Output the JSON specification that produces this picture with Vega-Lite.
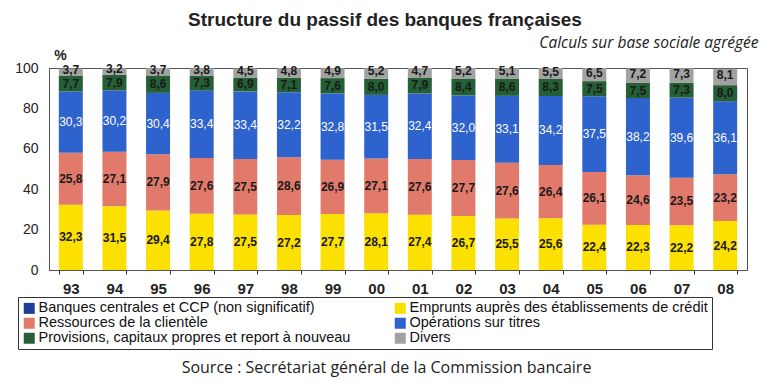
{
  "$schema": "https://vega.github.io/schema/vega-lite/v6.json",
  "width": 698,
  "height": 202,
  "autosize": {"type": "none"},
  "padding": {"left": 49, "top": 68, "right": 22, "bottom": 112},
  "background": "white",
  "title": {
    "text": "Structure du passif des banques françaises",
    "anchor": "middle",
    "frame": "group",
    "dx": -13,
    "offset": 5,
    "font": "Liberation Sans",
    "fontSize": 19,
    "fontWeight": "bold",
    "color": "#222222"
  },
  "data": {
    "values": [
      {"annee": "93", "Emprunts auprès des établissements de crédit": 32.3, "Ressources de la clientèle": 25.8, "Opérations sur titres": 30.3, "Provisions, capitaux propres et report à nouveau": 7.7, "Divers": 3.7},
      {"annee": "94", "Emprunts auprès des établissements de crédit": 31.5, "Ressources de la clientèle": 27.1, "Opérations sur titres": 30.2, "Provisions, capitaux propres et report à nouveau": 7.9, "Divers": 3.2},
      {"annee": "95", "Emprunts auprès des établissements de crédit": 29.4, "Ressources de la clientèle": 27.9, "Opérations sur titres": 30.4, "Provisions, capitaux propres et report à nouveau": 8.6, "Divers": 3.7},
      {"annee": "96", "Emprunts auprès des établissements de crédit": 27.8, "Ressources de la clientèle": 27.6, "Opérations sur titres": 33.4, "Provisions, capitaux propres et report à nouveau": 7.3, "Divers": 3.8},
      {"annee": "97", "Emprunts auprès des établissements de crédit": 27.5, "Ressources de la clientèle": 27.5, "Opérations sur titres": 33.4, "Provisions, capitaux propres et report à nouveau": 6.9, "Divers": 4.5},
      {"annee": "98", "Emprunts auprès des établissements de crédit": 27.2, "Ressources de la clientèle": 28.6, "Opérations sur titres": 32.2, "Provisions, capitaux propres et report à nouveau": 7.1, "Divers": 4.8},
      {"annee": "99", "Emprunts auprès des établissements de crédit": 27.7, "Ressources de la clientèle": 26.9, "Opérations sur titres": 32.8, "Provisions, capitaux propres et report à nouveau": 7.6, "Divers": 4.9},
      {"annee": "00", "Emprunts auprès des établissements de crédit": 28.1, "Ressources de la clientèle": 27.1, "Opérations sur titres": 31.5, "Provisions, capitaux propres et report à nouveau": 8.0, "Divers": 5.2},
      {"annee": "01", "Emprunts auprès des établissements de crédit": 27.4, "Ressources de la clientèle": 27.6, "Opérations sur titres": 32.4, "Provisions, capitaux propres et report à nouveau": 7.9, "Divers": 4.7},
      {"annee": "02", "Emprunts auprès des établissements de crédit": 26.7, "Ressources de la clientèle": 27.7, "Opérations sur titres": 32.0, "Provisions, capitaux propres et report à nouveau": 8.4, "Divers": 5.2},
      {"annee": "03", "Emprunts auprès des établissements de crédit": 25.5, "Ressources de la clientèle": 27.6, "Opérations sur titres": 33.1, "Provisions, capitaux propres et report à nouveau": 8.6, "Divers": 5.1},
      {"annee": "04", "Emprunts auprès des établissements de crédit": 25.6, "Ressources de la clientèle": 26.4, "Opérations sur titres": 34.2, "Provisions, capitaux propres et report à nouveau": 8.3, "Divers": 5.5},
      {"annee": "05", "Emprunts auprès des établissements de crédit": 22.4, "Ressources de la clientèle": 26.1, "Opérations sur titres": 37.5, "Provisions, capitaux propres et report à nouveau": 7.5, "Divers": 6.5},
      {"annee": "06", "Emprunts auprès des établissements de crédit": 22.3, "Ressources de la clientèle": 24.6, "Opérations sur titres": 38.2, "Provisions, capitaux propres et report à nouveau": 7.5, "Divers": 7.2},
      {"annee": "07", "Emprunts auprès des établissements de crédit": 22.2, "Ressources de la clientèle": 23.5, "Opérations sur titres": 39.6, "Provisions, capitaux propres et report à nouveau": 7.3, "Divers": 7.3},
      {"annee": "08", "Emprunts auprès des établissements de crédit": 24.2, "Ressources de la clientèle": 23.2, "Opérations sur titres": 36.1, "Provisions, capitaux propres et report à nouveau": 8.0, "Divers": 8.1}
    ]
  },
  "transform": [
    {"fold": ["Emprunts auprès des établissements de crédit", "Ressources de la clientèle", "Opérations sur titres", "Provisions, capitaux propres et report à nouveau", "Divers"], "as": ["serie", "valeur"]},
    {"calculate": "indexof(['Emprunts auprès des établissements de crédit', 'Ressources de la clientèle', 'Opérations sur titres', 'Provisions, capitaux propres et report à nouveau', 'Divers'], datum.serie)", "as": "rang"},
    {"stack": "valeur", "groupby": ["annee"], "sort": [{"field": "rang", "order": "ascending"}], "as": ["bas", "haut"]},
    {"calculate": "(datum.bas + datum.haut) / 2", "as": "milieu"}
  ],
  "layer": [
    {
      "mark": {"type": "bar", "stroke": null},
      "encoding": {
        "x": {
          "field": "annee", "type": "nominal",
          "sort": ["93","94","95","96","97","98","99","00","01","02","03","04","05","06","07","08"],
          "scale": {"paddingInner": 0.45, "paddingOuter": 0.225},
          "axis": {
            "orient": "bottom",
            "labelAngle": 0,
            "labelFont": "Liberation Sans",
            "labelFontSize": 15,
            "labelFontWeight": "bold",
            "labelColor": "#222222",
            "labelPadding": 7,
            "tickSize": 4,
            "tickBand": "extent",
            "tickColor": "#333333",
            "domainColor": "#555555",
            "title": "Source : Secrétariat général de la Commission bancaire",
            "titleFont": "Open Sans",
            "titleFontSize": 16,
            "titleFontWeight": "normal",
            "titleColor": "#222222",
            "titleX": 337,
            "titleY": 97,
            "titleAlign": "center",
            "titleBaseline": "middle"
          }
        },
        "y": {
          "field": "bas", "type": "quantitative",
          "scale": {"domain": [0, 100], "nice": false},
          "axis": {
            "orient": "left",
            "values": [0, 20, 40, 60, 80, 100],
            "grid": false,
            "tickSize": 0,
            "labelFont": "Liberation Sans",
            "labelFontSize": 14,
            "labelColor": "#222222",
            "labelPadding": 11,
            "domainColor": "#555555",
            "title": "%",
            "titleFont": "Liberation Sans",
            "titleFontSize": 14,
            "titleFontWeight": "bold",
            "titleColor": "#222222",
            "titleAngle": 0,
            "titleAlign": "center",
            "titleBaseline": "middle",
            "titleX": 11,
            "titleY": -13
          }
        },
        "y2": {"field": "haut"},
        "color": {
          "field": "serie", "type": "nominal",
          "scale": {
            "domain": ["Banques centrales et CCP (non significatif)", "Ressources de la clientèle", "Provisions, capitaux propres et report à nouveau", "Emprunts auprès des établissements de crédit", "Opérations sur titres", "Divers"],
            "range": ["#1f3c98", "#e27a6b", "#245f35", "#fbe000", "#2e62cc", "#a2a2a2"]
          },
          "legend": {
            "orient": "none",
            "legendX": -31,
            "legendY": 229,
            "direction": "vertical",
            "columns": 2,
            "columnPadding": 42,
            "rowPadding": 0,
            "title": null,
            "symbolType": "square",
            "symbolSize": 121,
            "symbolStrokeWidth": 0,
            "symbolOpacity": 1,
            "labelFont": "Liberation Sans",
            "labelFontSize": 14.5,
            "labelColor": "#111111",
            "labelOffset": 2,
            "labelLimit": 420,
            "strokeColor": "#333333",
            "padding": 4
          }
        }
      }
    },
    {
      "transform": [{"filter": "datum.serie !== 'Opérations sur titres' && datum.serie !== 'Divers'"}],
      "mark": {"type": "text", "font": "Liberation Sans", "fontSize": 12, "fontWeight": "bold", "color": "#1a1a1a", "baseline": "middle"},
      "encoding": {
        "x": {
          "field": "annee", "type": "nominal",
          "sort": ["93","94","95","96","97","98","99","00","01","02","03","04","05","06","07","08"],
          "axis": {
            "orient": "top",
            "labels": false,
            "ticks": false,
            "domain": false,
            "title": "Calculs sur base sociale agrégée",
            "titleFont": "Open Sans",
            "titleFontSize": 15.5,
            "titleFontStyle": "italic",
            "titleFontWeight": "normal",
            "titleColor": "#222222",
            "titleX": 709,
            "titleY": -26,
            "titleAlign": "right",
            "titleBaseline": "middle"
          }
        },
        "y": {"field": "milieu", "type": "quantitative"},
        "text": {"field": "valeur", "type": "quantitative", "format": ".1f"}
      }
    },
    {
      "transform": [{"filter": "datum.serie === 'Divers'"}],
      "mark": {"type": "text", "font": "Liberation Sans", "fontSize": 12, "fontWeight": "bold", "color": "#1a1a1a", "baseline": "middle", "dy": -2},
      "encoding": {
        "x": {
          "field": "annee", "type": "nominal",
          "sort": ["93","94","95","96","97","98","99","00","01","02","03","04","05","06","07","08"],
          "axis": null
        },
        "y": {"field": "milieu", "type": "quantitative"},
        "text": {"field": "valeur", "type": "quantitative", "format": ".1f"}
      }
    },
    {
      "transform": [{"filter": "datum.serie === 'Opérations sur titres'"}],
      "mark": {"type": "text", "font": "Liberation Sans", "fontSize": 12, "color": "#ffffff", "baseline": "middle"},
      "encoding": {
        "x": {
          "field": "annee", "type": "nominal",
          "sort": ["93","94","95","96","97","98","99","00","01","02","03","04","05","06","07","08"],
          "axis": null
        },
        "y": {"field": "milieu", "type": "quantitative"},
        "text": {"field": "valeur", "type": "quantitative", "format": ".1f"}
      }
    }
  ],
  "resolve": {"axis": {"x": "independent"}},
  "config": {
    "locale": {"number": {"decimal": ",", "thousands": " ", "grouping": [3], "currency": ["", " €"]}},
    "view": {"stroke": "#555555", "strokeWidth": 1}
  }
}
